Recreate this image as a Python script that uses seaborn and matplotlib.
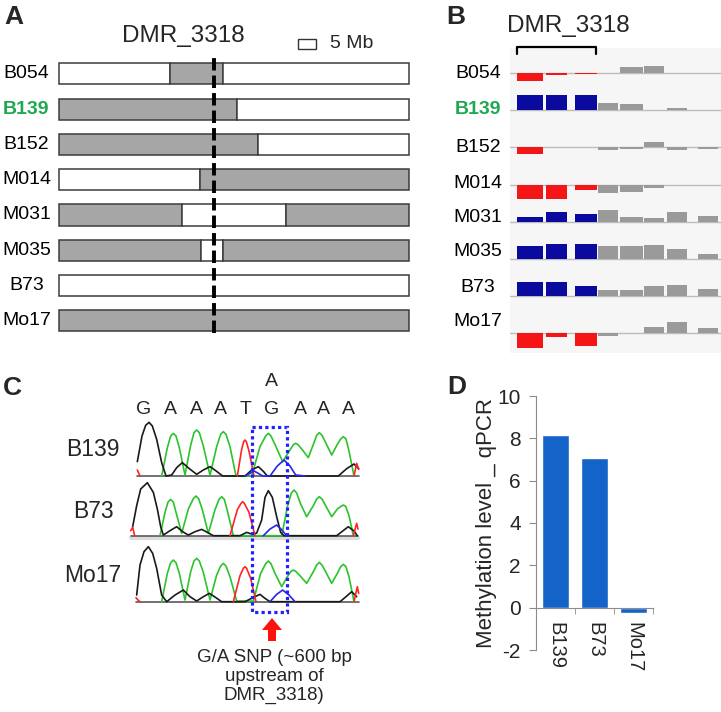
import numpy as np
import matplotlib
matplotlib.use('Agg')
import matplotlib.pyplot as plt
from matplotlib.patches import Rectangle, FancyArrow
import seaborn as sns

nan = np.nan

# ---- panel A: haplotype blocks around DMR_3318 (Mb from left end of window)
lines_a = ['B054', 'B139', 'B152', 'M014', 'M031', 'M035', 'B73', 'Mo17']
breaks_a = [[31.6, 46.9], [50.9], [56.9], [40.2], [35.0, 64.8], [40.4, 46.9], [], []]
starts_mo17 = [False, True, True, False, True, True, False, True]  # gray = Mo17 type
window_mb = 100
dmr_mb = 44.1
scale_bar_mb = 5

# ---- panel B: methylation difference per bin (DMR = first 3 bins)
bin_start = [6.7, 35.7, 65.0, 87.7, 110.3, 133.7, 156.7, 187.7]
bin_width = [26.0, 21.6, 22.0, 20.0, 22.7, 20.6, 20.3, 20.6]
n_dmr_bins = 3
meth_b054 = [-0.51, -0.15, -0.09, 0, 0.42, 0.49, 0, 0]
meth_b139 = [1.0, 1.0, 1.0, 0.45, 0.38, 0, 0.15, 0]
meth_b152 = [-0.45, 0, 0, -0.2, -0.13, 0.35, -0.18, -0.13]
meth_m014 = [-0.93, -0.93, -0.38, -0.55, -0.49, -0.25, 0, 0]
meth_m031 = [0.31, 0.65, 0.49, 0.8, 0.31, 0.25, 0.62, 0.38]
meth_m035 = [0.85, 1.0, 1.0, 0.85, 0.85, 0.91, 0.65, 0.35]
meth_b73 = [0.93, 0.93, 0.69, 0.42, 0.42, 0.67, 0.73, 0.51]
meth_mo17 = [-0.95, -0.22, -0.82, -0.15, 0, 0.42, 0.73, 0.35]
meth_b = [meth_b054, meth_b139, meth_b152, meth_m014,
          meth_m031, meth_m035, meth_b73, meth_mo17]

# ---- panel C: sequencing traces (scan position, intensity), one per base
rows_c = ['B139', 'B73', 'Mo17']
base_calls = ['G', 'A', 'A', 'A', 'T', 'G', 'A', 'A', 'A']
b139_G = ([22, 36, 47, 57, 67, 80, 95, 108, 125, 140, 157, 178, 200, 220, 240, 260, 278,
           345, 365, 385, 400, 412, 625, 650, 672, 686],
          [43, 120, 152, 161, 150, 110, 40, 0, 3, 25, 40, 22, 5, 18, 28, 14, 0,
           0, 18, 28, 14, 0, 0, 22, 36, 22])
b139_A = ([95, 112, 122, 130, 138, 148, 165, 182, 192, 200, 208, 220, 240, 260, 272, 280,
           288, 300, 318, 365, 390, 407, 415, 423, 437, 458, 478, 490, 497, 504, 516, 535,
           552, 560, 568, 576, 587, 605, 622, 632, 640, 648, 657, 672],
          [0, 85, 120, 128, 120, 85, 3, 92, 130, 138, 130, 90, 2, 88, 125, 133,
           125, 88, 0, 0, 88, 120, 128, 120, 90, 43, 75, 94, 98, 94, 80, 55,
           100, 122, 130, 122, 100, 63, 95, 111, 118, 111, 75, 0])
b139_T = ([22, 30, nan, 322, 335, 341, 345, 349, 357, 372, nan, 672, 680, 686],
          [18, 0, nan, 0, 80, 103, 108, 103, 75, 0, nan, 0, 38, 20])
b139_C = ([345, 360, 372, 385, 398, 420, 442, 462, 480, 497, 525],
          [0, 8, 15, 8, 0, 0, 30, 48, 30, 3, 0])
b73_G = ([8, 20, 32, 52, 70, 82, 92, 100, 120, 140, 158, 175, 195, 215, 232, 250,
          330, 350, 368, 380, 395, 405, 415, 427, 440, 452, 462, 620, 638, 655, 672, 682],
         [27, 90, 140, 159, 130, 80, 27, 2, 15, 27, 12, 2, 12, 19, 10, 0,
          0, 10, 4, 8, 47, 115, 135, 115, 57, 10, 0, 0, 14, 27, 14, 0])
b73_A = ([90, 105, 114, 122, 130, 138, 155, 175, 190, 198, 206, 217, 235, 255, 267, 275,
          283, 292, 310, 455, 473, 484, 492, 500, 512, 530, 550, 560, 568, 576, 587, 605,
          622, 633, 640, 647, 657, 670],
         [0, 70, 101, 109, 101, 70, 7, 80, 111, 119, 111, 78, 7, 78, 109, 117,
          109, 75, 0, 0, 90, 128, 137, 128, 95, 57, 90, 110, 117, 110, 90, 57,
          80, 88, 92, 88, 60, 0])
b73_T = ([2, 8, 14, nan, 300, 322, 333, 338, 343, 357, 375, nan, 670, 680, 684],
         [15, 25, 0, nan, 0, 78, 97, 102, 97, 70, 0, nan, 0, 37, 20])
b73_C = ([400, 420, 440, 455, 470], [0, 20, 32, 18, 0])
mo17_G = ([20, 30, 42, 55, 68, 80, 95, 110, 135, 160, 180, 200, 220, 238, 258, 275,
           345, 368, 390, 405, 420, 630, 648, 665, 680],
          [20, 110, 150, 165, 145, 100, 20, 0, 20, 35, 15, 2, 15, 25, 12, 0,
           0, 12, 22, 10, 0, 0, 15, 30, 15])
mo17_A = ([95, 112, 122, 130, 138, 148, 165, 182, 192, 200, 208, 220, 240, 260, 272, 280,
           288, 300, 320, 370, 392, 407, 415, 423, 435, 455, 472, 483, 490, 497, 510, 530,
           550, 560, 568, 576, 587, 605, 622, 632, 640, 648, 657, 672],
          [0, 85, 117, 125, 117, 85, 5, 90, 122, 130, 122, 88, 5, 80, 107, 115,
           107, 75, 2, 2, 85, 114, 122, 114, 85, 45, 75, 91, 95, 91, 78, 55,
           90, 110, 118, 110, 90, 55, 85, 105, 112, 105, 75, 0])
mo17_T = ([18, 24, 30, nan, 310, 330, 340, 345, 350, 362, 378, nan, 672, 682, 686],
          [12, 5, 0, nan, 0, 78, 100, 105, 100, 70, 0, nan, 0, 45, 25])
mo17_C = ([420, 440, 458, 477, 495], [0, 22, 35, 20, 0])
traces_c = [{'G': b139_G, 'A': b139_A, 'T': b139_T, 'C': b139_C},
            {'G': b73_G, 'A': b73_A, 'T': b73_T, 'C': b73_C},
            {'G': mo17_G, 'A': mo17_A, 'T': mo17_T, 'C': mo17_C}]

# ---- panel D: qPCR methylation level
samples_d = ['B139', 'B73', 'Mo17']
qpcr_d = [8.16, 7.08, -0.24]

sns.set_style('ticks')
plt.rcParams['font.family'] = ['Liberation Sans', 'DejaVu Sans']
plt.rcParams['axes.unicode_minus'] = False

GRAY = '#a6a6a6'
GREEN = '#1fa84f'
base_colors = {'G': '#1a1a1a', 'A': '#2bc42b', 'T': '#ff2424', 'C': '#2626e6'}

W, H = 721, 712
fig = plt.figure(figsize=(W / 100, H / 100), dpi=100)


def px_axes(x0, y0, x1, y1):
    return fig.add_axes([x0 / W, 1 - y1 / H, (x1 - x0) / W, (y1 - y0) / H])


# ---------------- A
axa = px_axes(59.3, 56.2, 409.3, 338.4)
for i, name in enumerate(lines_a):
    edges = [0] + breaks_a[i] + [window_mb]
    mo17_like = starts_mo17[i]
    for s, e in zip(edges[:-1], edges[1:]):
        axa.barh(i, e - s, left=s, height=0.6, color=GRAY if mo17_like else 'white',
                 edgecolor='#3c3c3c', lw=1.1, clip_on=False)
        mo17_like = not mo17_like
    hl = name == 'B139'
    axa.text(-0.094, i, name, transform=axa.get_yaxis_transform(), ha='center',
             va='center', fontsize=14, color=GREEN if hl else 'black',
             fontweight='bold' if hl else 'normal')
axa.axvline(dmr_mb, ymin=0.02, ymax=0.996, color='black', lw=2.8,
            ls=(0, (3.2, 1.3)), zorder=5)
axa.set_xlim(0, window_mb)
axa.set_ylim(7.5, -0.5)
axa.axis('off')

# ---------------- B
axb = px_axes(510, 48, 721, 353)
axb.set_facecolor('#f6f6f6')
row_step = 2.48
for i, vals in enumerate(meth_b):
    base = -i * row_step
    axb.axhline(base, color='#bcbcbc', lw=1, zorder=1)
    cols = []
    for j, v in enumerate(vals):
        if j < n_dmr_bins:
            cols.append('#f41616' if v < 0 else '#0a0a9e')
        else:
            cols.append('#9a9a9a')
    axb.bar(bin_start, vals, width=bin_width, bottom=base, align='edge',
            color=cols, lw=0, zorder=2)
axb.set_xlim(0, 211)
axb.set_ylim(-18.67, 1.667)
axb.set_xticks([])
axb.set_yticks([])
for sp in axb.spines.values():
    sp.set_visible(False)

# ---------------- C
c_baselines = [476, 535.7, 601.7]
for r, yb in enumerate(c_baselines):
    axc = px_axes(130, yb - 60, 360, yb + 1)
    xs_all = np.concatenate([np.array(t[0], float) for t in traces_c[r].values()])
    x0, x1 = np.nanmin(xs_all), np.nanmax(xs_all)
    if r == 1:
        axc.plot([x0, x1], [-6, -6], color='#dcdcdc', lw=3, clip_on=False)
    axc.plot([x0, x1], [0, 0], color='#5a5a5a', lw=1.2, clip_on=False)
    for b in ['A', 'G', 'T', 'C']:
        x, y = traces_c[r][b]
        axc.plot(x, y, color=base_colors[b], lw=1.2, clip_on=False,
                 solid_joinstyle='round')
    axc.set_xlim(0, 690)
    axc.set_ylim(-3, 180)
    axc.axis('off')

# ---------------- D
axd = px_axes(536, 396, 653, 650)
sns.barplot(x=samples_d, y=qpcr_d, color='#1463c9', saturation=1, width=0.67, ax=axd)
axd.set_ylim(-2, 10)
axd.set_xlim(-0.5, 2.5)
axd.set_yticks(range(-2, 11, 2))
axd.spines[['top', 'right']].set_visible(False)
axd.spines['bottom'].set_position(('data', 0))
axd.spines[['left', 'bottom']].set_color('#8c8c8c')
axd.tick_params(axis='y', length=5, color='#8c8c8c', labelsize=15, pad=6)
axd.set_xticks([0.5, 1.5, 2.5], minor=True)
axd.tick_params(axis='x', which='major', length=0, pad=10, labelsize=14.5,
                labelrotation=270)
axd.tick_params(axis='x', which='minor', length=4, color='#8c8c8c')
axd.set_xlabel('')
axd.set_ylabel('Methylation level _ qPCR', fontsize=16)
axd.yaxis.set_label_coords(-0.33, 0.5)

# ---------------- annotations in pixel space
ov = fig.add_axes([0, 0, 1, 1])
ov.set_xlim(0, W)
ov.set_ylim(H, 0)
ov.axis('off')

for lab, x, y in [('A', 14, 17), ('B', 456, 17), ('C', 12, 388), ('D', 457, 387)]:
    ov.text(x, y, lab, fontsize=19, fontweight='bold', ha='center', va='center')

ov.text(183, 36, 'DMR_3318', fontsize=17.5, ha='center', va='center')
ov.add_patch(Rectangle((298, 39), 18, 10, facecolor='white', edgecolor='#333333', lw=1))
ov.text(330, 44, f'{scale_bar_mb} Mb', fontsize=14, ha='left', va='center')

label_y_b = [74, 109, 148, 183, 217, 252, 288, 322]
for name, y in zip(lines_a, label_y_b):
    hl = name == 'B139'
    ov.text(478, y, name, fontsize=14, ha='center', va='center',
            color=GREEN if hl else 'black', fontweight='bold' if hl else 'normal')
ov.text(568, 26, 'DMR_3318', fontsize=17.5, ha='center', va='center')
ov.plot([517, 517, 596, 596], [53.5, 47, 47, 53.5], color='black', lw=1.6)

for name, y in zip(rows_c, [450, 512, 576]):
    ov.text(93, y, name, fontsize=16.5, ha='center', va='center')
seq_x = [143.3, 170, 196.7, 220, 245.7, 271.7, 300, 323.3, 348.3]
for b, x in zip(base_calls, seq_x):
    ov.text(x, 410, b, fontsize=14, ha='center', va='center')
ov.text(271.7, 382, 'A', fontsize=14, ha='center', va='center')
ov.add_patch(Rectangle((252, 427), 35, 185, fill=False, edgecolor='#1f1fff',
                       lw=2.3, ls=(0, (1, 1))))
ov.add_patch(FancyArrow(272, 641, 0, -23, width=8, head_width=20, head_length=12,
                        length_includes_head=True, color='#ff1010', lw=0))
ov.text(274, 676.5, 'G/A SNP (~600 bp\nupstream of\nDMR_3318)', fontsize=13.5,
        ha='center', va='center', linespacing=1.15)

fig.savefig('out.png', dpi=100, facecolor='white')
